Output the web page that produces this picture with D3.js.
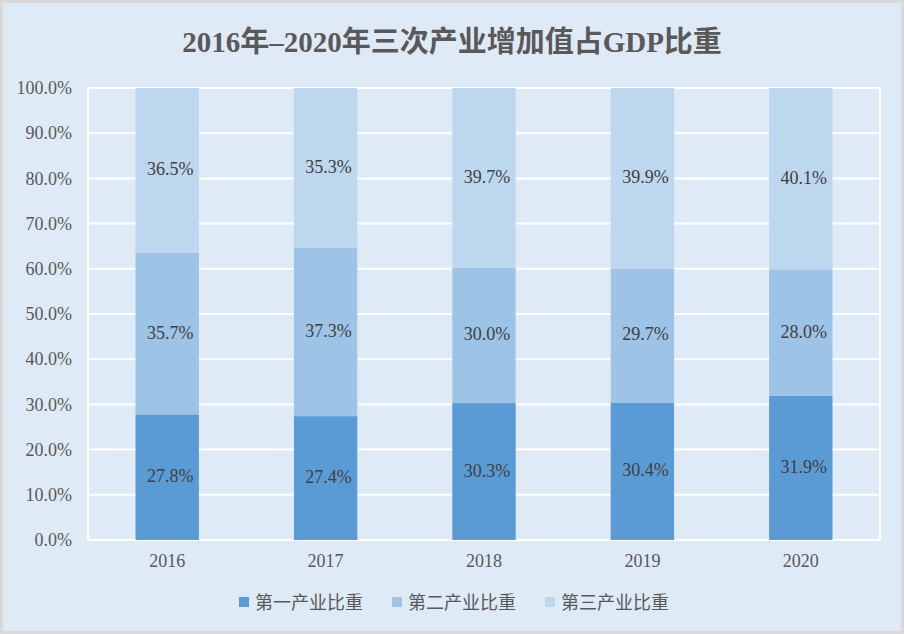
<!DOCTYPE html>
<html>
<head>
<meta charset="utf-8">
<script src="https://cdn.jsdelivr.net/npm/d3@7"></script>
<style>
  html, body { margin: 0; padding: 0; background: #d9d9d9; }
  svg { display: block; font-family: 'Liberation Serif', 'Times New Roman', 'Noto Sans CJK SC', serif; }
</style>
</head>
<body>
<div id="chart"></div>
<script>
// Chart data
const years = ['2016', '2017', '2018', '2019', '2020'];
const seriesNames = ['第一产业比重', '第二产业比重', '第三产业比重'];
const primary = [27.8, 27.4, 30.3, 30.4, 31.9];
const secondary = [35.7, 37.3, 30.0, 29.7, 28.0];
const tertiary = [36.5, 35.3, 39.7, 39.9, 40.1];
const yTicks = [0, 10, 20, 30, 40, 50, 60, 70, 80, 90, 100];
const colors = ['#5b9bd5', '#9dc3e6', '#bdd7ee'];

const W = 904, H = 634;
const margin = { top: 88, right: 24, bottom: 94, left: 88 };

const svg = d3.select('#chart').append('svg')
    .attr('width', W)
    .attr('height', H);

// Background with light border
svg.append('rect')
    .attr('x', 1.5).attr('y', 1.5)
    .attr('width', W - 3).attr('height', H - 3)
    .attr('fill', '#deeaf6')
    .attr('stroke', '#d9d9d9')
    .attr('stroke-width', 3);

const plotW = W - margin.left - margin.right;
const plotH = H - margin.top - margin.bottom;

const g = svg.append('g')
    .attr('transform', `translate(${margin.left},${margin.top})`);

const x = d3.scaleBand()
    .domain(years)
    .range([0, plotW])
    .paddingInner(0.6)
    .paddingOuter(0.3);

const y = d3.scaleLinear()
    .domain([0, 100])
    .range([plotH, 0]);

// Gridlines
g.append('g')
    .selectAll('line')
    .data(yTicks)
    .join('line')
    .attr('x1', 0).attr('x2', plotW)
    .attr('y1', d => y(d)).attr('y2', d => y(d))
    .attr('stroke', '#ffffff')
    .attr('stroke-width', 2);

// Plot border
g.append('rect')
    .attr('x', 0).attr('y', 0)
    .attr('width', plotW).attr('height', plotH)
    .attr('fill', 'none')
    .attr('stroke', '#ffffff')
    .attr('stroke-width', 2);

// Stack data
const rows = years.map((yr, i) => ({ year: yr, s0: primary[i], s1: secondary[i], s2: tertiary[i] }));
const stack = d3.stack().keys(['s0', 's1', 's2']);
const layers = stack(rows);

const layerG = g.selectAll('.layer')
    .data(layers)
    .join('g')
    .attr('class', 'layer')
    .attr('fill', (d, i) => colors[i]);

layerG.selectAll('rect')
    .data(d => d)
    .join('rect')
    .attr('x', d => x(d.data.year))
    .attr('width', x.bandwidth())
    .attr('y', d => y(d[1]))
    .attr('height', d => y(d[0]) - y(d[1]));

// Value labels
layers.forEach(layer => {
    g.append('g')
        .selectAll('text')
        .data(layer)
        .join('text')
        .attr('x', d => x(d.data.year) + x.bandwidth() / 2 + 3)
        .attr('y', d => y((d[0] + d[1]) / 2) + 5)
        .attr('text-anchor', 'middle')
        .attr('font-size', 18)
        .attr('fill', '#404040')
        .text(d => (d[1] - d[0]).toFixed(1) + '%');
});

// Y axis
const yAxis = g.append('g')
    .call(d3.axisLeft(y).tickValues(yTicks).tickSize(0).tickPadding(16)
        .tickFormat(d => d.toFixed(1) + '%'));
yAxis.select('.domain').remove();
yAxis.selectAll('text')
    .attr('font-family', null)
    .attr('font-size', 18)
    .attr('fill', '#595959');

// X axis
const xAxis = g.append('g')
    .attr('transform', `translate(0,${plotH})`)
    .call(d3.axisBottom(x).tickSize(0).tickPadding(14));
xAxis.select('.domain').remove();
xAxis.selectAll('text')
    .attr('font-size', 18)
    .attr('fill', '#595959');
yAxis.attr('font-family', null);
xAxis.attr('font-family', null);

// Title
svg.append('text')
    .attr('x', W / 2)
    .attr('y', 52)
    .attr('text-anchor', 'middle')
    .attr('font-weight', 'bold')
    .attr('font-size', 29)
    .attr('fill', '#595959')
    .text('2016年–2020年三次产业增加值占GDP比重');

// Legend
const legendX = [239, 392, 545];
const legend = svg.append('g')
    .selectAll('g')
    .data(seriesNames)
    .join('g')
    .attr('transform', (d, i) => `translate(${legendX[i]},597)`);

legend.append('rect')
    .attr('width', 10).attr('height', 10)
    .attr('fill', (d, i) => colors[i]);

legend.append('text')
    .attr('x', 16)
    .attr('y', 12)
    .attr('font-size', 18)
    .attr('fill', '#595959')
    .text(d => d);
</script>
</body>
</html>
